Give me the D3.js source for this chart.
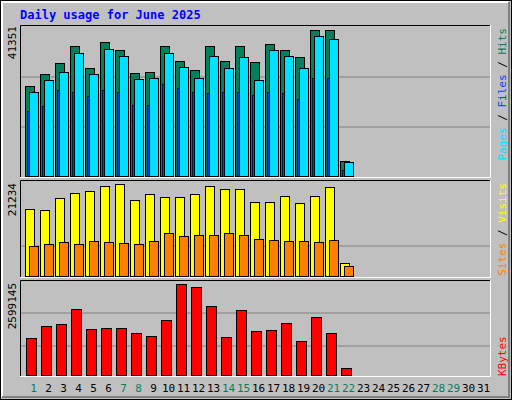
<!DOCTYPE html><html><head><script src="https://cdn.jsdelivr.net/npm/d3@7"></script>
<style>body{margin:0;background:#fff}text{font-family:"DejaVu Sans Mono",monospace}</style></head><body>
<script>
const days = d3.range(1,32);
const weekend = [1,7,8,14,15,21,22,28,29];
const hits  = [25590,28970,32060,36840,30660,37970,35710,29250,29530,36840,32620,30090,36840,32620,36840,32340,37410,35710,33750,41351,41340,4500];
const files = [23910,27280,29530,34880,28970,36000,34030,27570,27850,34880,30940,27850,34030,30660,33750,27280,35710,34030,30660,39650,38820,4220];
const pages = [18560,19970,24460,23910,22780,24460,23910,20250,20250,26160,25030,23910,23630,23910,23910,23060,23910,23630,21940,27850,27850,1960];
const visits= [15590,15370,18080,19210,19660,20790,21234,17630,18980,18310,18310,18980,20790,20110,20110,17180,17180,18530,16950,18530,20570,3160];
const sites = [7010,7460,7910,7460,8140,7910,7680,7460,8140,9940,9270,9490,9490,9940,9490,8590,8360,8140,8140,7910,8360,2490];
const kbytes= [1073600,1412600,1469100,1892900,1327800,1356100,1356100,1214800,1130100,1582100,2599145,2514400,1977600,1101800,1864600,1271300,1299600,1497400,988800,1666900,1214800,226000];
const maxLabels = ["41351","21234","2599145"];

const svg = d3.select("body").append("svg").attr("width",512).attr("height",400);
svg.append("rect").attr("x",0).attr("y",0).attr("width",512).attr("height",400).attr("fill","#c0c0c0");
svg.append("rect").attr("x",0.5).attr("y",0.5).attr("width",511).attr("height",399).attr("fill","none").attr("stroke","#000");
svg.append("path").attr("d","M2,397V2H509").attr("stroke","#fff").attr("stroke-width",2).attr("fill","none");
svg.append("path").attr("d","M2,397H509V2").attr("stroke","#808080").attr("stroke-width",2).attr("fill","none");
svg.append("text").attr("x",20).attr("y",19).attr("fill","#0000ff").attr("font-weight","bold").attr("font-size",12).text("Daily usage for June 2025");

const x = d3.scaleBand().domain(days).range([20,485]);
const L=20,R=490;
const panels=[{t:25,b:177,grid:[77,127]},{t:180,b:277,grid:[246]},{t:280,b:376,grid:[313,346]}];
panels.forEach(p=>{
  svg.append("rect").attr("x",L).attr("y",p.t).attr("width",R-L).attr("height",p.b-p.t).attr("fill","#c0c0c0");
  p.grid.forEach(g=>svg.append("line").attr("x1",L).attr("x2",R).attr("y1",g).attr("y2",g).attr("stroke","#808080"));
  svg.append("path").attr("d",`M${L+.5},${p.b}V${p.t+.5}H${R}`).attr("stroke","#000").attr("fill","none");
  svg.append("path").attr("d",`M${L},${p.b+.5}H${R+.5}V${p.t}`).attr("stroke","#fff").attr("fill","none");
});
const y1=d3.scaleLinear().domain([0,41351]).range([177,30]);
const y2=d3.scaleLinear().domain([0,21234]).range([277,184]);
const y3=d3.scaleLinear().domain([0,2599145]).range([376,284]);
function bars(data,y,dx,w,color,sw=1){
  svg.append("g").selectAll("rect").data(data).join("rect")
   .attr("x",(d,i)=>x(i+1)+dx+.5).attr("y",d=>Math.round(y(d))+.5)
   .attr("width",w).attr("height",d=>y(0)-Math.round(y(d))-1)
   .attr("fill",color).attr("stroke","#000").attr("stroke-width",sw);
}
bars(hits,y1,5,9,"#00805c");
bars(files,y1,9,9,"#00e0ff");
bars(pages,y1,7,2,"#0040ff",0.7);
bars(visits,y2,5,9,"#ffff00");
bars(sites,y2,9,9,"#ff8000");
bars(kbytes,y3,6,10,"#ff0000");

svg.append("g").selectAll("text").data(days).join("text")
  .attr("x",d=>x(d)+x.bandwidth()/2+6).attr("y",392).attr("text-anchor","middle").attr("font-size",11)
  .attr("fill",d=>weekend.includes(d)?"#00805c":"#000").text(d=>d);

[[26,0],[183,1],[283,2]].forEach(([yy,i])=>{
  svg.append("text").attr("transform",`translate(16,${yy}) rotate(-90)`).attr("text-anchor","end").attr("font-size",11).text(maxLabels[i]);
});
function rlabel(y,parts,anchor){
  const t=svg.append("text").attr("transform",`translate(506,${y}) rotate(-90)`).attr("text-anchor",anchor).attr("font-size",11);
  parts.forEach(([s,c])=>t.append("tspan").attr("fill",c).text(s));
}
rlabel(28,[["Pages","#00e0ff"],[" / ","#000"],["Files","#0040ff"],[" / ","#000"],["Hits","#00805c"]],"end");
rlabel(183,[["Sites","#ff8000"],[" / ","#000"],["Visits","#ffff00"]],"end");
rlabel(376,[["KBytes","#ff0000"]],"start");
</script></body></html>
